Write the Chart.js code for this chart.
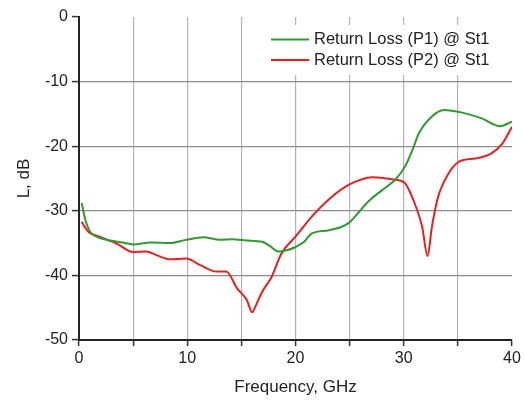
<!DOCTYPE html>
<html>
<head>
<meta charset="utf-8">
<script src="https://cdn.jsdelivr.net/npm/chart.js@4/dist/chart.umd.min.js"></script>
<style>
  html, body { margin: 0; padding: 0; background: #fff; }
  #wrap { width: 525px; height: 403px; }
</style>
</head>
<body>
<div id="wrap"><canvas id="c" width="525" height="403"></canvas></div>
<script>
// ---- data ----
const seriesNames = ['Return Loss (P1) @ St1', 'Return Loss (P2) @ St1'];
const freqP1 = [0.25, 0.6, 1.0, 1.5, 1.9, 2.9, 4.0, 5.0, 6.6, 8.4, 9.9, 11.5, 13.0, 14.2, 15.5, 16.9, 17.6, 18.4, 19.2, 20.0, 20.8, 21.5, 23.1, 24.9, 25.8, 26.7, 28.0, 29.2, 30.1, 30.8, 31.4, 32.6, 33.7, 35.4, 37.2, 38.9, 40.0];
const lossP1 = [-28.8, -31.5, -33.2, -33.9, -34.2, -34.6, -34.9, -35.2, -34.9, -35.0, -34.5, -34.1, -34.5, -34.4, -34.6, -34.8, -35.4, -36.3, -36.1, -35.6, -34.8, -33.5, -33.0, -31.9, -30.3, -28.6, -26.8, -25.2, -23.2, -20.6, -18.0, -15.4, -14.4, -14.8, -15.7, -16.9, -16.2];
const freqP2 = [0.25, 0.6, 0.9, 1.9, 3.5, 5.0, 6.2, 7.2, 8.4, 9.9, 11.2, 12.7, 13.6, 14.6, 15.5, 16.0, 16.3, 16.9, 17.8, 18.7, 20.0, 21.5, 23.1, 24.9, 27.1, 29.2, 30.1, 30.9, 31.7, 32.2, 32.6, 33.1, 33.5, 35.1, 36.6, 38.1, 39.1, 40.0];
const lossP2 = [-31.7, -32.7, -33.3, -34.0, -35.1, -36.4, -36.3, -36.9, -37.5, -37.4, -38.4, -39.4, -39.4, -42.0, -43.8, -45.7, -44.8, -42.6, -40.2, -36.6, -34.0, -30.9, -28.2, -26.0, -24.8, -25.2, -25.7, -28.4, -32.5, -37.0, -32.5, -28.3, -26.3, -22.4, -21.9, -21.1, -19.6, -17.0];
const xTicksShown = [0, 10, 20, 30, 40];
const xTitle = 'Frequency, GHz';
const yTitle = 'L, dB';

const colors = ['#2f9a2f', '#e8211f'];
const FONT = 'Arial, "Liberation Sans", Helvetica, sans-serif';

function pts(xs, ys) { return xs.map((x, i) => ({ x: x, y: ys[i] })); }

const legendPlugin = {
  id: 'customLegend',
  afterDatasetsDraw(chart) {
    const ctx = chart.ctx;
    ctx.save();
    ctx.fillStyle = '#ffffff';
    ctx.fillRect(264, 25, 240, 50);
    const rows = [39.5, 60];
    chart.data.datasets.forEach((ds, i) => {
      const y = rows[i];
      ctx.strokeStyle = ds.borderColor;
      ctx.lineWidth = 2;
      ctx.beginPath();
      ctx.moveTo(271, y);
      ctx.lineTo(309, y);
      ctx.stroke();
      ctx.fillStyle = '#222';
      ctx.font = '16.5px ' + FONT;
      ctx.textBaseline = 'middle';
      ctx.textAlign = 'left';
      ctx.fillText(ds.label, 314, y);
    });
    ctx.restore();
  }
};

new Chart(document.getElementById('c'), {
  type: 'line',
  data: {
    datasets: [
      { label: seriesNames[0], data: pts(freqP1, lossP1), borderColor: colors[0], borderWidth: 2, pointRadius: 0, cubicInterpolationMode: 'monotone', fill: false },
      { label: seriesNames[1], data: pts(freqP2, lossP2), borderColor: colors[1], borderWidth: 2, pointRadius: 0, cubicInterpolationMode: 'monotone', fill: false }
    ]
  },
  options: {
    responsive: false,
    animation: false,
    events: [],
    layout: { padding: { top: 17, right: 13, left: 0, bottom: 0 } },
    plugins: { legend: { display: false }, tooltip: { enabled: false } },
    scales: {
      x: {
        type: 'linear', min: 0, max: 40,
        afterFit(s) { s.height = 63; },
        ticks: {
          stepSize: 5, autoSkip: false, maxRotation: 0, padding: 3,
          color: '#222', font: { family: FONT, size: 16 },
          callback: (v) => xTicksShown.includes(v) ? String(v) : ''
        },
        grid: {
          color: (c) => (c.tick && c.tick.value === 40) ? 'rgba(0,0,0,0)' : '#b4b4b4',
          lineWidth: 1.2, tickLength: 6, tickColor: '#333', tickWidth: 1.5
        },
        border: { color: '#222', width: 2 },
        title: { display: true, text: xTitle, color: '#222', font: { family: FONT, size: 17 }, padding: { top: 0, bottom: 5 } }
      },
      y: {
        type: 'linear', min: -50, max: 0,
        afterFit(s) { s.width = 79; },
        ticks: { stepSize: 10, padding: 4, color: '#222', font: { family: FONT, size: 16 } },
        grid: {
          color: (c) => (c.tick && c.tick.value === 0) ? 'rgba(0,0,0,0)' : '#8c8c8c',
          lineWidth: 1.2, tickLength: 7, tickColor: '#333', tickWidth: 1.5
        },
        border: { color: '#222', width: 2 },
        title: { display: true, text: yTitle, color: '#222', font: { family: FONT, size: 17 }, padding: { top: 14, bottom: 0 } }
      }
    }
  },
  plugins: [legendPlugin]
});
</script>
</body>
</html>
